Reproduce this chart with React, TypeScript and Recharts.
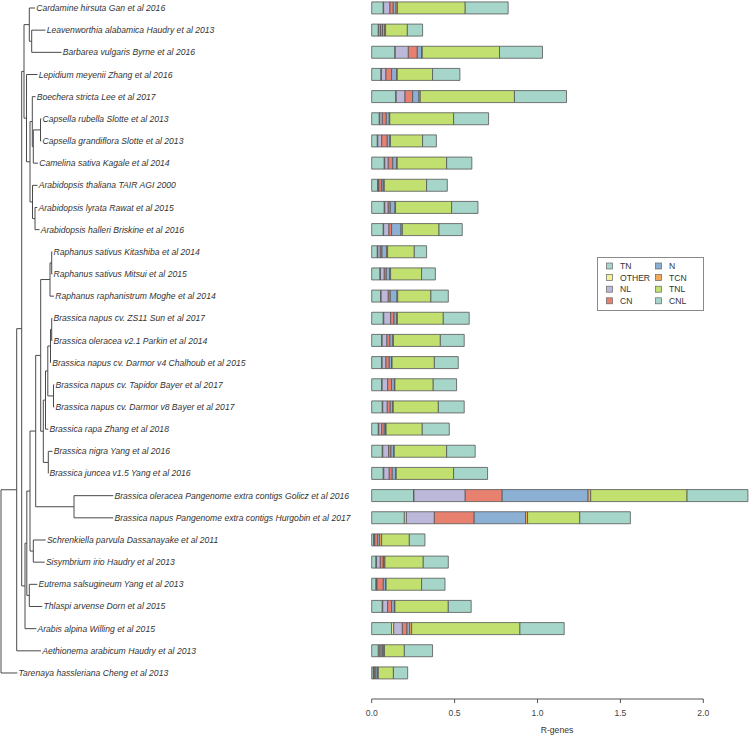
import React from "react";
import {
  ComposedChart,
  Bar,
  XAxis,
  YAxis,
  ReferenceLine,
  ReferenceDot,
  Legend,
  Label,
} from "recharts";

const FONT = "'Liberation Sans', Arial, sans-serif";

const leafNames = [
  "Cardamine hirsuta Gan et al 2016",
  "Leavenworthia alabamica Haudry et al 2013",
  "Barbarea vulgaris Byrne et al 2016",
  "Lepidium meyenii Zhang et al 2016",
  "Boechera stricta Lee et al 2017",
  "Capsella rubella Slotte et al 2013",
  "Capsella grandiflora Slotte et al 2013",
  "Camelina sativa Kagale et al 2014",
  "Arabidopsis thaliana TAIR AGI 2000",
  "Arabidopsis lyrata Rawat et al 2015",
  "Arabidopsis halleri Briskine et al 2016",
  "Raphanus sativus Kitashiba et al 2014",
  "Raphanus sativus Mitsui et al 2015",
  "Raphanus raphanistrum Moghe et al 2014",
  "Brassica napus cv. ZS11 Sun et al 2017",
  "Brassica oleracea v2.1 Parkin et al 2014",
  "Brassica napus cv. Darmor v4 Chalhoub et al 2015",
  "Brassica napus cv. Tapidor Bayer et al 2017",
  "Brassica napus cv. Darmor v8 Bayer et al 2017",
  "Brassica rapa Zhang et al 2018",
  "Brassica nigra Yang et al 2016",
  "Brassica juncea v1.5 Yang et al 2016",
  "Brassica oleracea Pangenome extra contigs Golicz et al 2016",
  "Brassica napus Pangenome extra contigs Hurgobin et al 2017",
  "Schrenkiella parvula Dassanayake et al 2011",
  "Sisymbrium irio Haudry et al 2013",
  "Eutrema salsugineum Yang et al 2013",
  "Thlaspi arvense Dorn et al 2015",
  "Arabis alpina Willing et al 2015",
  "Aethionema arabicum Haudry et al 2013",
  "Tarenaya hassleriana Cheng et al 2013",
];

// branch tip depth of each leaf (tree units)
const leafTips = [
  35, 45.5, 61.5, 37.5, 35.5, 41.3, 41.3, 38, 37.5, 37.3, 39.5, 52.3, 52.3,
  54, 52.3, 52.3, 51, 54.3, 54.3, 48.3, 52.5, 48.3, 113.3, 113.3, 45.7, 44.7,
  37.3, 42.3, 36.3, 41, 17.3,
];

// internal nodes: [id, depth, [childA, childB]]  (numbers = leaf index)
const treeNodes: [string, number, (string | number)[]][] = [
  ["A", 31.7, [1, 2]],
  ["B", 29.3, [0, "A"]],
  ["E", 40.5, [5, 6]],
  ["F", 33.3, ["E", 7]],
  ["G", 32.3, [4, "F"]],
  ["H", 35, [9, 10]],
  ["I", 32.5, [8, "H"]],
  ["J", 30, ["G", "I"]],
  ["N", 26.5, [3, "J"]],
  ["C", 24, ["B", "N"]],
  ["RS", 51.7, [11, 12]],
  ["RR", 50, ["RS", 13]],
  ["B1", 51.7, [14, 15]],
  ["B2", 50.5, ["B1", 16]],
  ["B3", 53.5, [17, 18]],
  ["B4", 47.8, ["B2", "B3"]],
  ["B5", 45.5, ["B4", 19]],
  ["BN", 48.3, [20, 21]],
  ["B6", 43.3, ["B5", "BN"]],
  ["L2a", 40.7, ["RR", "B6"]],
  ["BX", 74, [22, 23]],
  ["L2b", 35.7, ["L2a", "BX"]],
  ["SS", 33.3, [24, 25]],
  ["L2c", 30, ["L2b", "SS"]],
  ["ET", 29.3, [26, 27]],
  ["L2d", 26.8, ["L2c", "ET"]],
  ["U", 25, ["L2d", 28]],
  ["T", 21.7, ["C", "U"]],
  ["S", 16.7, ["T", 29]],
  ["root", 1, ["S", 30]],
];

const seriesKeys = ["TN", "OTHER", "NL", "CN", "N", "TCN", "TNL", "CNL"];
const seriesColors = ["#A6D6CA", "#F4F09A", "#BCB8DA", "#E8806F", "#8CAFD4", "#F1AA5A", "#C2E070", "#A6D6CA"];

const TN = [.070, .040, .141, .056, .145, .046, .034, .076, .036, .076, .070, .034, .050, .054, .070, .060, .060, .060, .064, .040, .064, .070, .253, .197, .012, .026, .026, .064, .120, .040, .010];
const OTHER = [.002, .003, .001, .003, .003, .003, .003, .003, .003, .003, .002, .003, .003, .003, .003, .003, .003, .003, .003, .003, .003, .003, .002, .012, .004, .003, .004, .003, .013, .006, .004];
const NL = [.038, .010, .079, .027, .053, .015, .023, .021, .004, .021, .032, .015, .023, .043, .041, .029, .023, .033, .027, .017, .035, .033, .309, .169, .002, .023, .002, .029, .052, .010, .002];
const CN = [.020, .012, .054, .034, .046, .024, .034, .027, .017, .012, .016, .010, .012, .012, .021, .018, .020, .024, .018, .016, .014, .018, .223, .240, .018, .018, .038, .024, .028, .010, .010];
const N = [.017, .012, .027, .031, .038, .018, .016, .024, .010, .029, .057, .028, .020, .041, .016, .018, .014, .017, .015, .008, .017, .021, .518, .310, .012, .004, .014, .017, .016, .008, .010];
const TCN = [.008, .007, .003, .003, .008, .003, .003, .003, .006, .003, .008, .006, .006, .004, .004, .003, .003, .003, .003, .003, .003, .003, .016, .012, .012, .006, .003, .003, .012, .003, .004];
const TNL = [.409, .131, .466, .213, .568, .385, .194, .298, .255, .338, .221, .161, .187, .200, .277, .283, .255, .231, .272, .218, .316, .346, .581, .315, .167, .231, .214, .322, .653, .120, .091];
const CNL = [.259, .092, .259, .165, .314, .211, .083, .152, .125, .159, .140, .074, .083, .105, .156, .144, .144, .141, .156, .163, .172, .205, .367, .305, .094, .151, .141, .138, .267, .170, .086];

const seriesValues = [TN, OTHER, NL, CN, N, TCN, TNL, CNL];

const xTicks = [0, 0.5, 1, 1.5, 2];

const ROW_MIN = -0.361;
const ROW_MAX = 31.173;

const rows = leafNames.map((name, i) => {
  const r: Record<string, number | string> = { row: i, name };
  seriesKeys.forEach((k, j) => (r[k] = seriesValues[j][i]));
  return r;
});

// tree layout
const nodeX: Record<string, number> = {};
const nodeY: Record<string, number> = {};
const xOf = (k: string | number) => (typeof k === "number" ? leafTips[k] : nodeX[k]);
const yOf = (k: string | number) => (typeof k === "number" ? k : nodeY[k]);
const edges: { x1: number; y1: number; x2: number; y2: number }[] = [];
treeNodes.forEach(([id, depth, kids]) => {
  nodeX[id] = depth;
  nodeY[id] = (yOf(kids[0]) + yOf(kids[1])) / 2;
  edges.push({ x1: depth, y1: yOf(kids[0]), x2: depth, y2: yOf(kids[1]) });
  kids.forEach((k) => edges.push({ x1: depth, y1: yOf(k), x2: xOf(k), y2: yOf(k) }));
});

const LegendBox = (props: any) => {
  const payload = props.payload || [];
  const ordered = seriesKeys.map((k) => payload.find((p: any) => p.value === k)).filter(Boolean);
  return (
    <svg width={107} height={54} style={{ display: "block" }}>
      <rect x={0.5} y={0.5} width={106} height={53} fill="#fff" stroke="#8a8a8a" />
      {ordered.map((p: any, i: number) => {
        const col = Math.floor(i / 4);
        const y = 9 + (i % 4) * 11.6;
        const x = 9.5 + col * 49;
        return (
          <g key={p.value}>
            <rect x={x} y={y - 3} width={6} height={6} fill={p.color} stroke="#666" strokeWidth={0.7} />
            <text x={x + 13.5} y={y} dominantBaseline="central" fontSize={8.6} fontFamily={FONT} fill="#333">
              {p.value}
            </text>
          </g>
        );
      })}
    </svg>
  );
};

export default function App() {
  return (
    <div style={{ position: "absolute", left: 0, top: 0, width: 750, height: 735, background: "#fff" }}>
      <ComposedChart
        width={750}
        height={735}
        data={rows}
        layout="vertical"
        margin={{ top: 0, right: 0, bottom: 0, left: 0 }}
      >
        <YAxis
          yAxisId="row"
          type="number"
          dataKey="row"
          domain={[ROW_MIN, ROW_MAX]}
          allowDataOverflow
          hide
        />
        <XAxis
          xAxisId="tree"
          type="number"
          orientation="top"
          height={0}
          domain={[0, 750]}
          allowDataOverflow
          hide
        />
        <XAxis
          xAxisId="val"
          type="number"
          domain={[-2.2419, 2.2817]}
          allowDataOverflow
          ticks={xTicks}
          tickFormatter={(v: number) => v.toFixed(1)}
          axisLine={false}
          tickLine={{ stroke: "#555" }}
          tickSize={4}
          tickMargin={7}
          height={36}
          tick={{ fontSize: 8.6, fill: "#444", fontFamily: FONT }}
        >
          <Label
            content={() => (
              <text x={557} y={730} textAnchor="middle" dominantBaseline="central" fontSize={8.6} fontFamily={FONT} fill="#333">
                R-genes
              </text>
            )}
          />
        </XAxis>

        {seriesKeys.map((k, j) => (
          <Bar
            key={k}
            dataKey={k}
            name={k}
            stackId="s"
            xAxisId="val"
            yAxisId="row"
            barSize={12}
            fill={seriesColors[j]}
            stroke="#555"
            strokeWidth={0.8}
            legendType="square"
            isAnimationActive={false}
          />
        ))}

        <ReferenceLine
          xAxisId="val"
          yAxisId="row"
          segment={[{ x: 0, y: ROW_MAX }, { x: 2, y: ROW_MAX }]}
          stroke="#555"
          ifOverflow="visible"
        />

        {edges.map((e, i) => (
          <ReferenceLine
            key={"e" + i}
            xAxisId="tree"
            yAxisId="row"
            segment={[{ x: e.x1, y: e.y1 }, { x: e.x2, y: e.y2 }]}
            stroke="#4a4a4a"
            strokeWidth={1}
            ifOverflow="visible"
          />
        ))}

        {leafNames.map((name, i) => (
          <ReferenceDot
            key={"l" + i}
            xAxisId="tree"
            yAxisId="row"
            x={leafTips[i]}
            y={i}
            r={1}
            fill="none"
            stroke="none"
            ifOverflow="visible"
            label={(p: any) => {
              const vb = p.viewBox || {};
              return (
                <text
                  x={vb.x + vb.width / 2 + 1.2}
                  y={vb.y + vb.height / 2}
                  dominantBaseline="central"
                  fontSize={8.6}
                  fontStyle="italic"
                  fontFamily={FONT}
                  fill="#333"
                >
                  {name}
                </text>
              );
            }}
          />
        ))}

        <Legend
          layout="horizontal"
          align="center"
          verticalAlign="middle"
          content={LegendBox}
          wrapperStyle={{ left: 597, top: 257, width: 107, height: 54 }}
        />
      </ComposedChart>
    </div>
  );
}
